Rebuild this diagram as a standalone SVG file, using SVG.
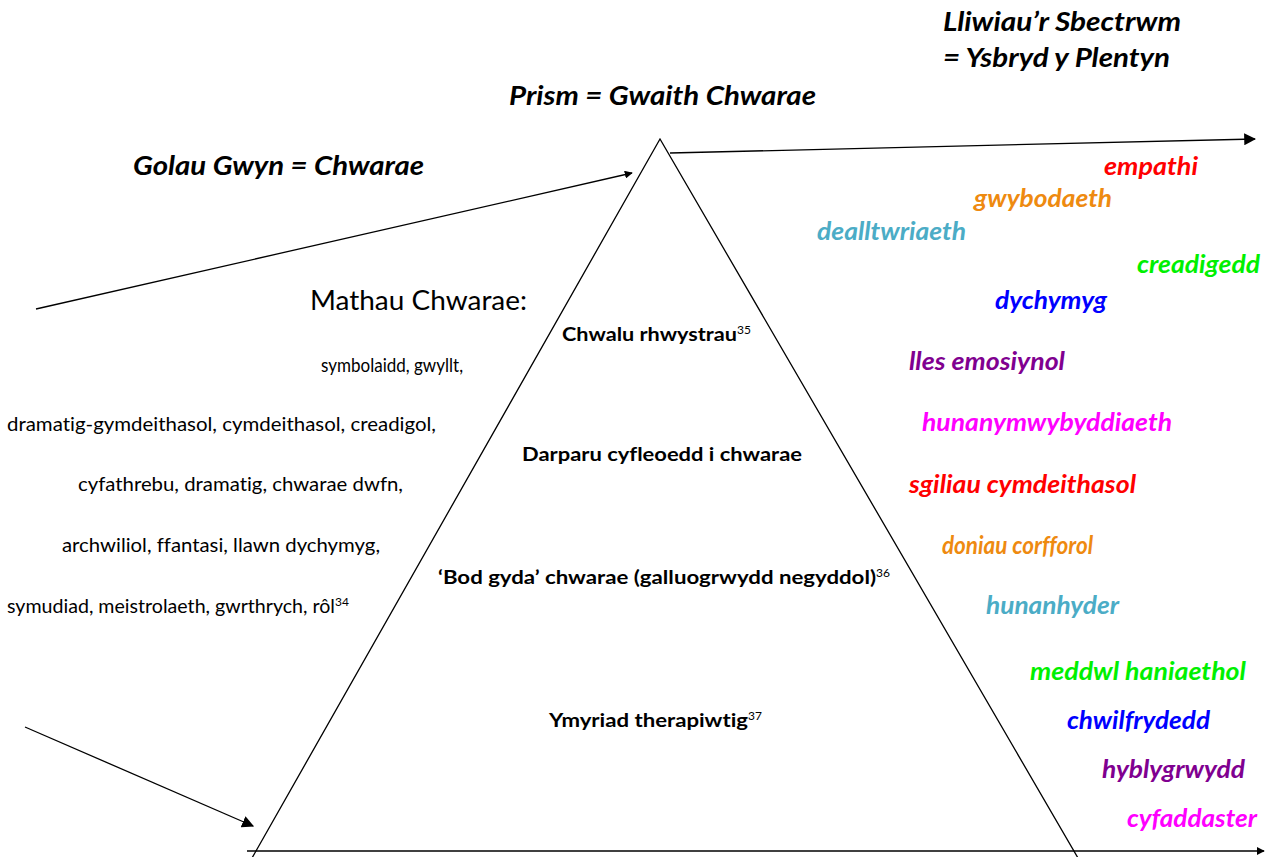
<svg xmlns="http://www.w3.org/2000/svg" width="1271" height="857" viewBox="0 0 1271 857">
<style>
.t{font-family:Lato,"Open Sans","Liberation Sans",sans-serif;font-variant-ligatures:none;}
.title{font-size:26px;font-weight:bold;font-style:italic;fill:#000;}
.lst{font-size:19px;fill:#000;}
.in{font-size:18.5px;font-weight:bold;fill:#000;}
.sup{font-size:12px;font-weight:normal;}
.c{font-size:24px;font-weight:bold;font-style:italic;}
.ln{stroke:#000;stroke-width:1.3;fill:none;}
</style>
<defs>
<marker id="ah" viewBox="0 0 10 10" refX="9" refY="5" markerWidth="8" markerHeight="8" markerUnits="userSpaceOnUse" orient="auto">
<path d="M0,0 L10,5 L0,10 z" fill="#000"/>
</marker>
<marker id="ah2" viewBox="0 0 10 10" refX="9" refY="5" markerWidth="12" markerHeight="12" markerUnits="userSpaceOnUse" orient="auto">
<path d="M0,0 L10,5 L0,10 z" fill="#000"/>
</marker>
</defs>
<rect width="1271" height="857" fill="#fff"/>
<g id="prism">
<path class="ln" d="M252,858 L660,139 L1078,858"/>
</g>
<g id="connectors">
<line class="ln" x1="36" y1="309" x2="632" y2="173" marker-end="url(#ah)"/>
<line class="ln" x1="670" y1="153" x2="1255" y2="139" marker-end="url(#ah2)"/>
<line class="ln" x1="25" y1="727" x2="253" y2="826" marker-end="url(#ah2)"/>
<line class="ln" x1="247" y1="851" x2="1264" y2="851" marker-end="url(#ah)"/>
</g>
<g id="titles" class="t">
<text class="title" x="943" y="31" textLength="238" lengthAdjust="spacingAndGlyphs">Lliwiau’r Sbectrwm</text>
<text class="title" x="943" y="67" textLength="227" lengthAdjust="spacingAndGlyphs">= Ysbryd y Plentyn</text>
<text class="title" x="509" y="105" textLength="307" lengthAdjust="spacingAndGlyphs">Prism = Gwaith Chwarae</text>
<text class="title" x="133" y="175" textLength="291" lengthAdjust="spacingAndGlyphs">Golau Gwyn = Chwarae</text>
</g>
<g id="mathau" class="t">
<text x="310" y="310" style="font-size:26px" textLength="217" lengthAdjust="spacingAndGlyphs">Mathau Chwarae:</text>
<text class="lst" x="321" y="372" textLength="142" lengthAdjust="spacingAndGlyphs">symbolaidd, gwyllt,</text>
<text class="lst" x="7" y="431" textLength="429" lengthAdjust="spacingAndGlyphs">dramatig-gymdeithasol, cymdeithasol, creadigol,</text>
<text class="lst" x="78" y="491" textLength="325" lengthAdjust="spacingAndGlyphs">cyfathrebu, dramatig, chwarae dwfn,</text>
<text class="lst" x="62" y="552" textLength="318" lengthAdjust="spacingAndGlyphs">archwiliol, ffantasi, llawn dychymyg,</text>
<text class="lst" x="7" y="613"><tspan textLength="328" lengthAdjust="spacingAndGlyphs">symudiad, meistrolaeth, gwrthrych, rôl</tspan><tspan class="sup" dy="-7">34</tspan></text>
</g>
<g id="levels" class="t">
<text class="in" x="562" y="341"><tspan textLength="175" lengthAdjust="spacingAndGlyphs">Chwalu rhwystrau</tspan><tspan class="sup" dy="-7">35</tspan></text>
<text class="in" x="522" y="461" textLength="280" lengthAdjust="spacingAndGlyphs">Darparu cyfleoedd i chwarae</text>
<text class="in" x="438" y="584"><tspan textLength="438" lengthAdjust="spacingAndGlyphs">‘Bod gyda’ chwarae (galluogrwydd negyddol)</tspan><tspan class="sup" dy="-7">36</tspan></text>
<text class="in" x="549" y="727"><tspan textLength="199" lengthAdjust="spacingAndGlyphs">Ymyriad therapiwtig</tspan><tspan class="sup" dy="-7">37</tspan></text>
</g>
<g id="colours" class="t">
<text class="c" x="1104" y="175" fill="#FF0000" textLength="94" lengthAdjust="spacingAndGlyphs">empathi</text>
<text class="c" x="974" y="207" fill="#EE8A10" textLength="138" lengthAdjust="spacingAndGlyphs">gwybodaeth</text>
<text class="c" x="817" y="240" fill="#4BACC6" textLength="149" lengthAdjust="spacingAndGlyphs">dealltwriaeth</text>
<text class="c" x="1137" y="273" fill="#00F000" textLength="123" lengthAdjust="spacingAndGlyphs">creadigedd</text>
<text class="c" x="995" y="309" fill="#0000FF" textLength="112" lengthAdjust="spacingAndGlyphs">dychymyg</text>
<text class="c" x="909" y="370" fill="#800090" textLength="156" lengthAdjust="spacingAndGlyphs">lles emosiynol</text>
<text class="c" x="922" y="431" fill="#FF00FF" textLength="250" lengthAdjust="spacingAndGlyphs">hunanymwybyddiaeth</text>
<text class="c" x="909" y="493" fill="#FF0000" textLength="227" lengthAdjust="spacingAndGlyphs">sgiliau cymdeithasol</text>
<text class="c" x="942" y="554" fill="#EE8A10" textLength="151" lengthAdjust="spacingAndGlyphs">doniau corfforol</text>
<text class="c" x="986" y="614" fill="#4BACC6" textLength="133" lengthAdjust="spacingAndGlyphs">hunanhyder</text>
<text class="c" x="1030" y="680" fill="#00F000" textLength="216" lengthAdjust="spacingAndGlyphs">meddwl haniaethol</text>
<text class="c" x="1067" y="729" fill="#0000FF" textLength="143" lengthAdjust="spacingAndGlyphs">chwilfrydedd</text>
<text class="c" x="1102" y="778" fill="#800090" textLength="143" lengthAdjust="spacingAndGlyphs">hyblygrwydd</text>
<text class="c" x="1127" y="827" fill="#FF00FF" textLength="130" lengthAdjust="spacingAndGlyphs">cyfaddaster</text>
</g>
</svg>
